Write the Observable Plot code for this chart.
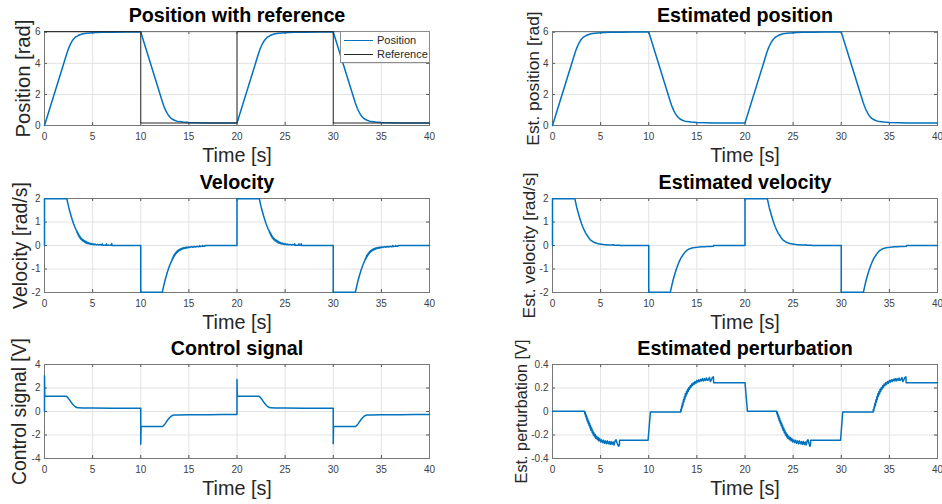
<!DOCTYPE html>
<html><head><meta charset="utf-8">
<script src="https://cdn.jsdelivr.net/npm/d3@7"></script>
<script src="https://cdn.jsdelivr.net/npm/@observablehq/plot@0.6"></script>
<style>
html,body{margin:0;padding:0;background:#fff;}
#fig{position:relative;width:942px;height:504px;overflow:hidden;font-family:Arial,'Liberation Sans',Helvetica,sans-serif;}
.cell{position:absolute;width:471px;height:168px;}
.legend{position:absolute;left:340px;top:31px;width:88px;height:30px;background:#fff;border:1px solid #8c8c8c;font-size:11px;color:#262626;}
.legend .sw{position:absolute;left:3px;width:29px;height:0;}
.legend .lb{position:absolute;left:36px;line-height:12px;white-space:nowrap;}
</style>
</head><body>
<div id="fig"></div>
<script>
const xTicks = [0, 5, 10, 15, 20, 25, 30, 35, 40];
const positionTicks = [0, 2, 4, 6];
const velocityTicks = [-2, -1, 0, 1, 2];
const controlTicks = [-4, -2, 0, 2, 4];
const perturbationTicks = [-0.4, -0.2, 0, 0.2, 0.4];

const reference = [[0,6.04],[10,6.04],[10,0.16],[20,0.16],[20,6.04],[30,6.04],[30,0.16],[40,0.16]];

const position = [
[0,0],[2.32,4.64],[2.45,4.88],[2.57,5.06],[2.67,5.2],[2.8,5.36],[2.9,5.46],[3.0,5.55],[3.15,5.65],[3.3,5.72],[3.5,5.79],[3.75,5.86],[4.0,5.9],[4.4,5.94],[5.0,5.97],[6.0,5.995],[7.0,6.005],[8.5,6.015],[10,6.02],
[12.24,1.54],[12.37,1.3],[12.5,1.1],[12.6,0.96],[12.7,0.84],[12.8,0.73],[12.9,0.64],[13.0,0.56],[13.15,0.47],[13.3,0.4],[13.5,0.34],[13.75,0.28],[14.0,0.25],[14.4,0.22],[15.0,0.195],[16.0,0.175],[17.0,0.168],[18.5,0.163],[20,0.16],
[22.27,4.7],[22.4,4.93],[22.52,5.1],[22.62,5.23],[22.75,5.38],[22.85,5.47],[22.95,5.55],[23.1,5.65],[23.25,5.72],[23.45,5.79],[23.7,5.86],[23.95,5.9],[24.35,5.94],[25.0,5.97],[26.0,5.995],[27.0,6.005],[28.5,6.015],[30,6.02],
[32.27,1.5],[32.4,1.27],[32.52,1.08],[32.62,0.95],[32.72,0.83],[32.82,0.72],[32.92,0.63],[33.02,0.55],[33.17,0.46],[33.32,0.4],[33.52,0.34],[33.77,0.28],[34.0,0.25],[34.4,0.22],[35.0,0.195],[36.0,0.175],[37.0,0.168],[38.5,0.163],[40,0.16]
];

const estPosition = [
[0,0],[2.32,4.64],[2.45,4.88],[2.57,5.06],[2.67,5.2],[2.8,5.36],[2.9,5.46],[3.0,5.55],[3.15,5.65],[3.3,5.72],[3.5,5.79],[3.75,5.86],[4.0,5.9],[4.4,5.94],[5.0,5.97],[6.0,5.995],[7.0,6.005],[8.5,6.015],[10,6.02],
[12.24,1.54],[12.37,1.3],[12.5,1.1],[12.6,0.96],[12.7,0.84],[12.8,0.73],[12.9,0.64],[13.0,0.56],[13.15,0.47],[13.3,0.4],[13.5,0.34],[13.75,0.28],[14.0,0.25],[14.4,0.22],[15.0,0.195],[16.0,0.175],[17.0,0.168],[18.5,0.163],[20,0.16],
[22.27,4.7],[22.4,4.93],[22.52,5.1],[22.62,5.23],[22.75,5.38],[22.85,5.47],[22.95,5.55],[23.1,5.65],[23.25,5.72],[23.45,5.79],[23.7,5.86],[23.95,5.9],[24.35,5.94],[25.0,5.97],[26.0,5.995],[27.0,6.005],[28.5,6.015],[30,6.02],
[32.27,1.5],[32.4,1.27],[32.52,1.08],[32.62,0.95],[32.72,0.83],[32.82,0.72],[32.92,0.63],[33.02,0.55],[33.17,0.46],[33.32,0.4],[33.52,0.34],[33.77,0.28],[34.0,0.25],[34.4,0.22],[35.0,0.195],[36.0,0.175],[37.0,0.168],[38.5,0.163],[40,0.16]
];

const velocity = [
[0,0],[0,1.99],[2.32,1.99],[2.42,1.8],[2.52,1.62],[2.62,1.47],[2.72,1.32],[2.82,1.18],[2.92,1.05],[3.02,0.93],[3.12,0.82],[3.22,0.72],[3.3,0.65],
[3.35,0.63],[3.38,0.55],[3.42,0.58],[3.45,0.49],[3.49,0.52],[3.52,0.43],[3.56,0.47],[3.6,0.37],[3.64,0.41],[3.68,0.32],[3.72,0.36],[3.76,0.28],[3.8,0.32],[3.85,0.24],[3.9,0.28],[3.95,0.2],[4.0,0.25],[4.05,0.18],[4.1,0.22],[4.15,0.15],[4.2,0.19],[4.26,0.12],[4.32,0.17],[4.38,0.1],[4.44,0.14],[4.5,0.08],[4.57,0.12],[4.64,0.07],[4.72,0.1],[4.8,0.05],[4.88,0.085],[4.96,0.04],[5.05,0.07],[5.15,0.03],[5.25,0.06],[5.38,0.025],[5.5,0.05],[5.65,0.02],[5.8,0.04],[5.95,0.015],[6.0,0.07],[6.05,0.015],[6.4,0.01],[6.44,0.07],[6.48,0.01],[6.95,0.01],[6.98,0.09],[7.02,0],[10,0],
[10,-1.99],[12.24,-1.99],[12.34,-1.8],[12.44,-1.62],[12.54,-1.46],[12.64,-1.31],[12.74,-1.17],[12.84,-1.04],[12.94,-0.92],[13.04,-0.81],[13.14,-0.71],[13.22,-0.64],
[13.25,-0.63],[13.28,-0.55],[13.32,-0.58],[13.35,-0.49],[13.39,-0.52],[13.42,-0.43],[13.46,-0.47],[13.5,-0.38],[13.54,-0.42],[13.58,-0.33],[13.62,-0.37],[13.66,-0.29],[13.7,-0.33],[13.75,-0.25],[13.8,-0.29],[13.85,-0.21],[13.9,-0.25],[13.96,-0.18],[14.02,-0.22],[14.08,-0.15],[14.14,-0.19],[14.2,-0.125],[14.27,-0.165],[14.34,-0.105],[14.41,-0.14],[14.48,-0.09],[14.56,-0.125],[14.64,-0.08],[14.72,-0.11],[14.8,-0.065],[14.9,-0.1],[15.0,-0.055],[15.12,-0.085],[15.25,-0.045],[15.4,-0.075],[15.55,-0.04],[15.7,-0.065],[15.85,-0.035],[16.0,-0.055],[16.1,-0.035],[16.13,0],[16.17,-0.04],[16.4,-0.035],[16.43,0],[16.47,-0.035],[16.66,-0.03],[16.69,0],[20,0],
[20,1.99],[22.32,1.99],[22.42,1.8],[22.52,1.62],[22.62,1.47],[22.72,1.32],[22.82,1.18],[22.92,1.05],[23.02,0.93],[23.12,0.82],[23.22,0.72],[23.3,0.65],[23.35,0.63],[23.38,0.55],[23.42,0.58],[23.45,0.49],[23.49,0.52],[23.52,0.43],[23.56,0.47],[23.6,0.37],[23.64,0.41],[23.68,0.32],[23.72,0.36],[23.76,0.28],[23.8,0.32],[23.85,0.24],[23.9,0.28],[23.95,0.2],[24.0,0.25],[24.05,0.18],[24.1,0.22],[24.15,0.15],[24.2,0.19],[24.26,0.12],[24.32,0.17],[24.38,0.1],[24.44,0.14],[24.5,0.08],[24.57,0.12],[24.64,0.07],[24.72,0.1],[24.8,0.05],[24.88,0.085],[24.96,0.04],[25.05,0.07],[25.15,0.03],[25.25,0.06],[25.38,0.025],[25.5,0.05],[25.65,0.02],[25.8,0.04],[25.95,0.015],[26.0,0.07],[26.05,0.015],[26.4,0.01],[26.44,0.07],[26.48,0.01],[26.65,0.01],[26.68,0.08],[26.72,0],[30,0],
[30,-1.99],[32.3,-1.99],[32.4,-1.8],[32.5,-1.62],[32.6,-1.46],[32.7,-1.31],[32.8,-1.17],[32.9,-1.04],[33.0,-0.92],[33.1,-0.81],[33.2,-0.71],[33.28,-0.64],[33.31,-0.63],[33.34,-0.55],[33.38,-0.58],[33.41,-0.49],[33.45,-0.52],[33.48,-0.43],[33.52,-0.47],[33.56,-0.38],[33.6,-0.42],[33.64,-0.33],[33.68,-0.37],[33.72,-0.29],[33.76,-0.33],[33.81,-0.25],[33.86,-0.29],[33.91,-0.21],[33.96,-0.25],[34.02,-0.18],[34.08,-0.22],[34.14,-0.15],[34.2,-0.19],[34.26,-0.125],[34.33,-0.165],[34.4,-0.105],[34.47,-0.14],[34.54,-0.09],[34.62,-0.125],[34.7,-0.08],[34.78,-0.11],[34.86,-0.065],[34.96,-0.1],[35.06,-0.055],[35.18,-0.085],[35.31,-0.045],[35.46,-0.075],[35.61,-0.04],[35.76,-0.065],[35.91,-0.035],[36.06,-0.055],[36.16,-0.035],[36.19,0],[36.23,-0.04],[36.46,-0.035],[36.49,0],[36.53,-0.035],[36.72,-0.03],[36.75,0],[40,0]
];

const estVelocity = [
[0,0],[0,1.99],[2.32,1.99],[2.42,1.8],[2.52,1.62],[2.62,1.47],[2.72,1.32],[2.82,1.18],[2.92,1.05],[3.02,0.93],[3.12,0.82],[3.22,0.72],[3.32,0.63],[3.42,0.55],[3.5,0.49],[3.55,0.47],[3.6,0.43],[3.65,0.41],[3.7,0.36],[3.75,0.34],[3.8,0.3],[3.86,0.28],[3.92,0.24],[3.98,0.23],[4.05,0.2],[4.12,0.19],[4.2,0.16],[4.28,0.15],[4.36,0.125],[4.45,0.12],[4.55,0.095],[4.65,0.09],[4.78,0.07],[4.9,0.065],[5.05,0.05],[5.2,0.048],[5.4,0.035],[5.6,0.033],[5.8,0.025],[6.0,0.022],[6.3,0.017],[6.35,0.035],[6.4,0.015],[7.0,0.01],[7.05,0],[10,0],
[10,-1.99],[12.24,-1.99],[12.34,-1.8],[12.44,-1.62],[12.54,-1.46],[12.64,-1.31],[12.74,-1.17],[12.84,-1.04],[12.94,-0.92],[13.04,-0.81],[13.14,-0.71],[13.24,-0.62],[13.34,-0.54],[13.42,-0.48],[13.47,-0.46],[13.52,-0.42],[13.57,-0.4],[13.62,-0.36],[13.67,-0.34],[13.72,-0.3],[13.78,-0.28],[13.84,-0.25],[13.9,-0.23],[13.97,-0.2],[14.04,-0.19],[14.12,-0.16],[14.2,-0.15],[14.3,-0.13],[14.4,-0.12],[14.5,-0.105],[14.62,-0.1],[14.75,-0.085],[14.9,-0.08],[15.05,-0.07],[15.25,-0.065],[15.5,-0.055],[15.8,-0.05],[16.1,-0.045],[16.4,-0.04],[16.7,-0.035],[16.75,0],[20,0],
[20,1.99],[22.32,1.99],[22.42,1.8],[22.52,1.62],[22.62,1.47],[22.72,1.32],[22.82,1.18],[22.92,1.05],[23.02,0.93],[23.12,0.82],[23.22,0.72],[23.32,0.63],[23.42,0.55],[23.5,0.49],[23.55,0.47],[23.6,0.43],[23.65,0.41],[23.7,0.36],[23.75,0.34],[23.8,0.3],[23.86,0.28],[23.92,0.24],[23.98,0.23],[24.05,0.2],[24.12,0.19],[24.2,0.16],[24.28,0.15],[24.36,0.125],[24.45,0.12],[24.55,0.095],[24.65,0.09],[24.78,0.07],[24.9,0.065],[25.05,0.05],[25.2,0.048],[25.4,0.035],[25.6,0.033],[25.8,0.025],[26.0,0.022],[26.3,0.017],[26.35,0.035],[26.4,0.015],[26.9,0.01],[26.95,0],[30,0],
[30,-1.99],[32.3,-1.99],[32.4,-1.8],[32.5,-1.62],[32.6,-1.46],[32.7,-1.31],[32.8,-1.17],[32.9,-1.04],[33.0,-0.92],[33.1,-0.81],[33.2,-0.71],[33.3,-0.62],[33.4,-0.54],[33.48,-0.48],[33.53,-0.46],[33.58,-0.42],[33.63,-0.4],[33.68,-0.36],[33.73,-0.34],[33.78,-0.3],[33.84,-0.28],[33.9,-0.25],[33.96,-0.23],[34.03,-0.2],[34.1,-0.19],[34.18,-0.16],[34.26,-0.15],[34.36,-0.13],[34.46,-0.12],[34.56,-0.105],[34.68,-0.1],[34.81,-0.085],[34.96,-0.08],[35.11,-0.07],[35.31,-0.065],[35.56,-0.055],[35.86,-0.05],[36.16,-0.045],[36.46,-0.04],[36.76,-0.035],[36.8,0],[40,0]
];

const control = [
[0,0],[0,3.05],[0.03,1.3],[2.25,1.3],[2.35,1.24],[2.45,1.15],[2.55,1.05],[2.65,0.93],[2.75,0.81],[2.85,0.7],[2.95,0.6],[3.05,0.51],[3.15,0.44],[3.25,0.38],[3.35,0.34],[3.5,0.31],[4.0,0.3],[5.0,0.295],[7.0,0.285],[8.5,0.28],[10,0.275],
[10,-2.78],[10.03,-1.28],[12.24,-1.28],[12.34,-1.22],[12.44,-1.13],[12.54,-1.03],[12.64,-0.91],[12.74,-0.79],[12.84,-0.68],[12.94,-0.58],[13.04,-0.49],[13.14,-0.42],[13.24,-0.36],[13.34,-0.32],[13.5,-0.3],[14,-0.29],[15,-0.285],[17,-0.27],[18.5,-0.26],[20,-0.25],
[20,2.72],[20.03,1.3],[22.27,1.3],[22.37,1.24],[22.47,1.15],[22.57,1.05],[22.67,0.93],[22.77,0.81],[22.87,0.7],[22.97,0.6],[23.07,0.51],[23.17,0.44],[23.27,0.38],[23.37,0.34],[23.52,0.31],[24,0.3],[25,0.295],[27,0.285],[28.5,0.28],[30,0.275],
[30,-2.75],[30.03,-1.28],[32.3,-1.28],[32.4,-1.22],[32.5,-1.13],[32.6,-1.03],[32.7,-0.91],[32.8,-0.79],[32.9,-0.68],[33.0,-0.58],[33.1,-0.49],[33.2,-0.42],[33.3,-0.36],[33.4,-0.32],[33.56,-0.3],[34,-0.29],[35,-0.285],[37,-0.27],[38.5,-0.26],[40,-0.25]
];

const perturbation = [
[0,0.003],[3.32,0.003],[3.36,-0.02],[3.4,-0.005],[3.44,-0.04],[3.48,-0.025],[3.52,-0.06],[3.56,-0.04],[3.6,-0.08],[3.65,-0.06],[3.7,-0.1],[3.75,-0.08],[3.8,-0.12],[3.85,-0.1],[3.9,-0.14],[3.95,-0.12],[4.0,-0.16],[4.06,-0.14],[4.12,-0.18],[4.18,-0.16],[4.24,-0.2],[4.3,-0.18],[4.37,-0.215],[4.44,-0.195],[4.51,-0.23],[4.58,-0.21],[4.66,-0.24],[4.74,-0.22],[4.82,-0.25],[4.9,-0.23],[5.0,-0.26],[5.1,-0.24],[5.2,-0.265],[5.3,-0.245],[5.4,-0.27],[5.5,-0.25],[5.6,-0.275],[5.7,-0.25],[5.8,-0.275],[5.9,-0.255],[6.0,-0.28],[6.1,-0.255],[6.2,-0.28],[6.3,-0.26],[6.4,-0.285],[6.5,-0.25],[6.6,-0.24],[6.72,-0.27],[6.85,-0.295],[6.95,-0.29],[6.97,-0.245],[9.93,-0.245],[10.17,-0.005],[13.3,-0.005],
[13.34,0.02],[13.38,0.005],[13.42,0.045],[13.46,0.03],[13.5,0.07],[13.55,0.05],[13.6,0.1],[13.65,0.08],[13.7,0.125],[13.75,0.105],[13.8,0.15],[13.86,0.13],[13.92,0.17],[13.98,0.15],[14.04,0.19],[14.1,0.17],[14.17,0.205],[14.24,0.19],[14.31,0.22],[14.38,0.205],[14.46,0.235],[14.54,0.22],[14.62,0.245],[14.7,0.23],[14.8,0.255],[14.9,0.24],[15.0,0.265],[15.1,0.25],[15.2,0.27],[15.3,0.255],[15.4,0.275],[15.5,0.26],[15.6,0.28],[15.7,0.26],[15.8,0.28],[15.9,0.265],[16.0,0.285],[16.1,0.265],[16.2,0.27],[16.3,0.29],[16.4,0.255],[16.5,0.27],[16.62,0.29],[16.72,0.295],[16.74,0.245],[20,0.245],[20.25,0.003],
[23.28,0.003],[23.32,-0.02],[23.36,-0.005],[23.4,-0.04],[23.44,-0.025],[23.48,-0.06],[23.52,-0.04],[23.56,-0.08],[23.61,-0.06],[23.66,-0.1],[23.71,-0.08],[23.76,-0.12],[23.81,-0.1],[23.86,-0.14],[23.91,-0.12],[23.96,-0.16],[24.02,-0.14],[24.08,-0.18],[24.14,-0.16],[24.2,-0.2],[24.26,-0.18],[24.33,-0.215],[24.4,-0.195],[24.47,-0.23],[24.54,-0.21],[24.62,-0.24],[24.7,-0.22],[24.78,-0.25],[24.86,-0.23],[24.96,-0.26],[25.06,-0.24],[25.16,-0.265],[25.26,-0.245],[25.36,-0.27],[25.46,-0.25],[25.56,-0.275],[25.66,-0.25],[25.76,-0.275],[25.86,-0.255],[25.96,-0.28],[26.06,-0.255],[26.16,-0.28],[26.26,-0.26],[26.36,-0.285],[26.46,-0.25],[26.54,-0.24],[26.64,-0.27],[26.74,-0.295],[26.8,-0.29],[26.82,-0.245],[29.93,-0.245],[30.15,-0.005],[33.3,-0.005],
[33.34,0.02],[33.38,0.005],[33.42,0.045],[33.46,0.03],[33.5,0.07],[33.55,0.05],[33.6,0.1],[33.65,0.08],[33.7,0.125],[33.75,0.105],[33.8,0.15],[33.86,0.13],[33.92,0.17],[33.98,0.15],[34.04,0.19],[34.1,0.17],[34.17,0.205],[34.24,0.19],[34.31,0.22],[34.38,0.205],[34.46,0.235],[34.54,0.22],[34.62,0.245],[34.7,0.23],[34.8,0.255],[34.9,0.24],[35.0,0.265],[35.1,0.25],[35.2,0.27],[35.3,0.255],[35.4,0.275],[35.5,0.26],[35.6,0.28],[35.7,0.26],[35.8,0.28],[35.9,0.265],[36.0,0.285],[36.1,0.265],[36.2,0.27],[36.3,0.29],[36.4,0.255],[36.5,0.27],[36.62,0.29],[36.72,0.295],[36.74,0.245],[40,0.245]
];

const BLUE = "#0072BD";
const FONT = "Arial, 'Liberation Sans', Helvetica, sans-serif";

function panel(cfg) {
  const leftCol = cfg.col === 0;
  const ml = leftCol ? 44 : 81, mr = leftCol ? 42 : 5;
  const fw = 471 - ml - mr, fh = 94;
  const marks = [
    Plot.gridX({ticks: xTicks, stroke: "#e2e2e2", strokeOpacity: 1}),
    Plot.gridY({ticks: cfg.yTicks, stroke: "#e2e2e2", strokeOpacity: 1}),
    Plot.tickX(xTicks, {x: d => d, insetTop: fh - 3, stroke: "#555"}),
    Plot.tickX(xTicks, {x: d => d, insetBottom: fh - 3, stroke: "#555"}),
    Plot.tickY(cfg.yTicks, {y: d => d, insetRight: fw - 3, stroke: "#555"}),
    Plot.tickY(cfg.yTicks, {y: d => d, insetLeft: fw - 3, stroke: "#555"}),
    Plot.frame({stroke: "#777"}),
    ...cfg.lines.map(l => Plot.line(l.data, {x: d => d[0], y: d => d[1], stroke: l.color, strokeWidth: l.width})),
    Plot.axisX({ticks: xTicks, tickSize: 0, tickPadding: 7, fontSize: 10, color: "#404040", tickFormat: d => String(d), label: null}),
    Plot.axisY({ticks: cfg.yTicks, tickSize: 0, tickPadding: 4, fontSize: 10, color: "#404040", tickFormat: d => String(d), label: null}),
    Plot.text([cfg.title], {text: d => d, frameAnchor: "top", textAnchor: "middle", lineAnchor: "bottom", dy: -9.5, fontSize: 19.7, fontWeight: "bold", fill: "#000"}),
    Plot.text(["Time [s]"], {text: d => d, frameAnchor: "bottom", textAnchor: "middle", lineAnchor: "bottom", dy: 36, fontSize: 19.8, fill: "#262626"}),
    Plot.text([cfg.ylabel], {text: d => d, frameAnchor: "left", textAnchor: "middle", lineAnchor: "bottom", rotate: -90, dx: cfg.ylabelDx, fontSize: cfg.ylabelSize, fill: "#262626"})
  ];
  return Plot.plot({
    width: 471, height: 168,
    marginLeft: ml, marginRight: mr, marginTop: 31, marginBottom: 43,
    x: {domain: [0, 40]},
    y: {domain: cfg.yDomain},
    style: {fontFamily: FONT, background: "transparent", overflow: "visible"},
    marks
  });
}

const panels = [
  {col: 0, row: 0, title: "Position with reference", ylabel: "Position [rad]", ylabelSize: 20.2, ylabelDx: -14.5, yDomain: [0, 6.05], yTicks: positionTicks,
   lines: [{data: position, color: BLUE, width: 1.5}, {data: reference, color: "#262626", width: 1}]},
  {col: 1, row: 0, title: "Estimated position", ylabel: "Est. position [rad]", ylabelSize: 17.4, ylabelDx: -14, yDomain: [0, 6.05], yTicks: positionTicks,
   lines: [{data: estPosition, color: BLUE, width: 1.5}]},
  {col: 0, row: 1, title: "Velocity", ylabel: "Velocity [rad/s]", ylabelSize: 19.5, ylabelDx: -17.5, yDomain: [-2, 2], yTicks: velocityTicks,
   lines: [{data: velocity, color: BLUE, width: 1.5}]},
  {col: 1, row: 1, title: "Estimated velocity", ylabel: "Est. velocity [rad/s]", ylabelSize: 17.4, ylabelDx: -17.5, yDomain: [-2, 2], yTicks: velocityTicks,
   lines: [{data: estVelocity, color: BLUE, width: 1.5}]},
  {col: 0, row: 2, title: "Control signal", ylabel: "Control signal [V]", ylabelSize: 19.3, ylabelDx: -19, yDomain: [-4, 4], yTicks: controlTicks,
   lines: [{data: control, color: BLUE, width: 1.5}]},
  {col: 1, row: 2, title: "Estimated perturbation", ylabel: "Est. perturbation [V]", ylabelSize: 16.3, ylabelDx: -25.5, yDomain: [-0.4, 0.4], yTicks: perturbationTicks,
   lines: [{data: perturbation, color: BLUE, width: 1.5}]}
];

const fig = document.getElementById("fig");
const rowTops = [0, 167, 333];
for (const p of panels) {
  const cell = document.createElement("div");
  cell.className = "cell";
  cell.style.left = (p.col * 471) + "px";
  cell.style.top = rowTops[p.row] + "px";
  cell.appendChild(panel(p));
  if (p.col === 0 && p.row === 0) {
    const lg = document.createElement("div");
    lg.className = "legend";
    lg.innerHTML =
      '<div class="sw" style="top:7.5px;border-top:1.5px solid ' + BLUE + '"></div>' +
      '<div class="lb" style="top:2px">Position</div>' +
      '<div class="sw" style="top:21.5px;border-top:1px solid #262626"></div>' +
      '<div class="lb" style="top:16px">Reference</div>';
    cell.appendChild(lg);
  }
  fig.appendChild(cell);
}
</script>
</body></html>
